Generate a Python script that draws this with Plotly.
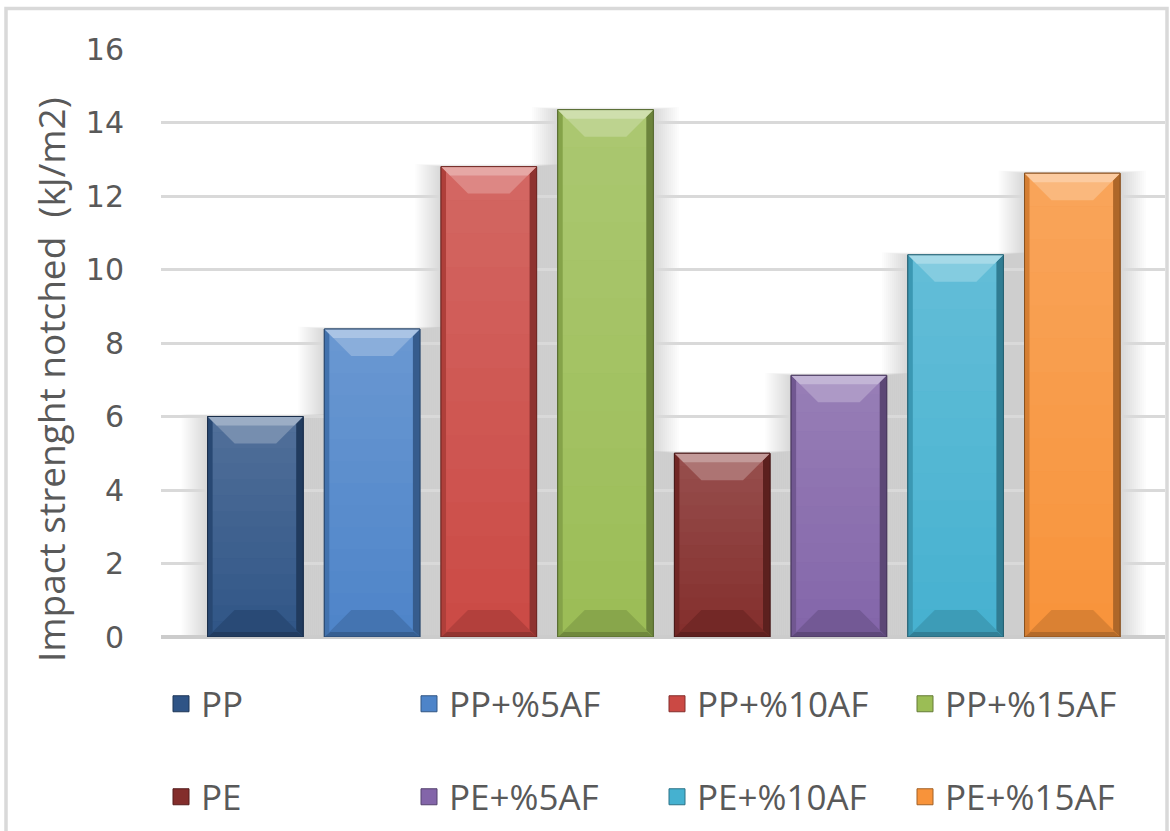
import plotly.graph_objects as go

# ---- data -------------------------------------------------------------
series = ["PP", "PP+%5AF", "PP+%10AF", "PP+%15AF",
          "PE", "PE+%5AF", "PE+%10AF", "PE+%15AF"]
impact_values = [6.0, 8.38, 12.8, 14.35, 5.0, 7.12, 10.4, 12.62]
bar_colors = ["#2f5486", "#4d84c9", "#cb4944", "#9bbd55",
              "#832d2b", "#8365a9", "#45b1d0", "#f8933a"]
y_ticks = [0, 2, 4, 6, 8, 10, 12, 14, 16]
y_title = "Impact strenght notched \u00a0(kJ/m2)"

# ---- layout geometry ---------------------------------------------------
W, H = 1170, 831
ML, MR, MT, MB = 161, 5, 49, 194
PW, PH = W - ML - MR, H - MT - MB
SLOT = 116.7                      # px per bar slot
BAR_W = 0.819                     # bar width as fraction of slot
X_LO = -0.809
X_HI = X_LO + PW / SLOT
Y_MAX = 16
KX = 1.0 / SLOT                   # x data units per pixel
KY = Y_MAX / PH                   # y data units per pixel

TEXT = "#595959"
GRID = "#d9d9d9"


def mix(hex_color, target, t):
    h = hex_color.lstrip("#")
    r, g, b = (int(h[i:i + 2], 16) for i in (0, 2, 4))
    tr, tg, tb = target
    r = round(r + (tr - r) * t)
    g = round(g + (tg - g) * t)
    b = round(b + (tb - b) * t)
    return f"rgb({r},{g},{b})"


def lighten(c, t):
    return mix(c, (255, 255, 255), t)


def darken(c, t):
    return mix(c, (0, 0, 0), t)


def poly(points):
    return "M " + " L ".join(f"{x:.5f},{y:.5f}" for x, y in points) + " Z"


def px_x(px):
    return (px - ML) / PW


def px_y(py):
    return (H - MB - py) / PH


fig = go.Figure()
shapes = []

for i, (name, v, c) in enumerate(zip(series, impact_values, bar_colors)):
    fig.add_trace(go.Bar(
        x=[i], y=[v], name=name, width=BAR_W, showlegend=False,
        marker=dict(color=c, line=dict(color=darken(c, 0.45), width=1)),
        hovertemplate=f"{name}: %{{y}}<extra></extra>",
    ))

    xl, xr = i - BAR_W / 2, i + BAR_W / 2

    # soft drop shadow around each bar
    for e in range(2, 28, 2):
        shapes.append(dict(
            type="rect", xref="x", yref="y", layer="below",
            x0=xl - e * KX, x1=xr + e * KX, y0=0, y1=v + e * 0.1 * KY,
            fillcolor="rgba(0,0,0,0.0135)", line=dict(width=0),
        ))

    # light vertical gradient on the face, brighter near the top
    n_bands = 14
    for k in range(n_bands):
        y0 = v * k / n_bands
        y1 = v * (k + 1) / n_bands
        alpha = 0.16 * (k + 1) / n_bands
        shapes.append(dict(
            type="rect", xref="x", yref="y", layer="above",
            x0=xl, x1=xr, y0=y0, y1=y1,
            fillcolor=f"rgba(255,255,255,{alpha:.3f})", line=dict(width=0),
        ))

    dx, dy = 27 * KX, 27 * KY
    sdx = 6 * KX

    # side edges
    shapes.append(dict(type="rect", xref="x", yref="y", layer="above",
                       x0=xl, x1=xl + 5 * KX, y0=0, y1=v,
                       fillcolor=darken(c, 0.14), line=dict(width=0)))
    shapes.append(dict(type="rect", xref="x", yref="y", layer="above",
                       x0=xr - 7 * KX, x1=xr, y0=0, y1=v,
                       fillcolor=darken(c, 0.30), line=dict(width=0)))

    # bottom bevel
    shapes.append(dict(type="path", xref="x", yref="y", layer="above",
                       path=poly([(xl, 0), (xr, 0), (xr - dx, dy), (xl + dx, dy)]),
                       fillcolor=darken(c, 0.12), line=dict(width=0)))
    shapes.append(dict(type="path", xref="x", yref="y", layer="above",
                       path=poly([(xl, 0), (xr, 0), (xr - sdx, 5 * KY), (xl + sdx, 5 * KY)]),
                       fillcolor=darken(c, 0.28), line=dict(width=0)))

    # top bevel with highlight
    shapes.append(dict(type="path", xref="x", yref="y", layer="above",
                       path=poly([(xl, v), (xr, v), (xr - dx, v - dy), (xl + dx, v - dy)]),
                       fillcolor=lighten(c, 0.34), line=dict(width=0)))
    shapes.append(dict(type="path", xref="x", yref="y", layer="above",
                       path=poly([(xl, v), (xr, v), (xr - 9 * KX, v - 9 * KY), (xl + 9 * KX, v - 9 * KY)]),
                       fillcolor=lighten(c, 0.52), line=dict(width=0)))

    # outline
    shapes.append(dict(type="rect", xref="x", yref="y", layer="above",
                       x0=xl, x1=xr, y0=0, y1=v,
                       fillcolor="rgba(0,0,0,0)", line=dict(color=darken(c, 0.45), width=1)))

# legend entries: square swatches in two rows of four
for i, (name, c) in enumerate(zip(series, bar_colors)):
    fig.add_trace(go.Scatter(
        x=[None], y=[None], mode="markers", name=name,
        marker=dict(symbol="square", size=16, color=c,
                    line=dict(color=darken(c, 0.35), width=1)),
        legend="legend" if i < 4 else "legend2",
        hoverinfo="skip",
    ))

# chart frame
shapes.append(dict(type="rect", xref="paper", yref="paper", layer="below",
                   x0=px_x(6), x1=px_x(1167), y0=px_y(8.5), y1=px_y(845),
                   fillcolor="rgba(0,0,0,0)", line=dict(color=GRID, width=3.5)))

legend_font = dict(family="Open Sans", size=35, color=TEXT)

fig.update_layout(
    width=W, height=H,
    margin=dict(l=ML, r=MR, t=MT, b=MB, pad=0),
    paper_bgcolor="white", plot_bgcolor="white",
    barmode="overlay",
    showlegend=True,
    shapes=shapes,
    xaxis=dict(range=[X_LO, X_HI], showticklabels=False, showgrid=False,
               zeroline=False, showline=False, ticks="", fixedrange=True),
    yaxis=dict(range=[0, Y_MAX], tickvals=y_ticks, ticks="",
               showgrid=True, gridcolor=GRID, gridwidth=3,
               zeroline=True, zerolinecolor="#cccccc", zerolinewidth=3.5,
               showline=False, ticklabelstandoff=36,
               tickfont=dict(family="DejaVu Sans", size=30, color=TEXT)),
    legend=dict(orientation="h", x=0, xanchor="left",
                y=px_y(704), yanchor="middle",
                entrywidth=203, entrywidthmode="pixels",
                itemsizing="trace",
                font=legend_font, bgcolor="rgba(0,0,0,0)",
                traceorder="normal"),
    legend2=dict(orientation="h", x=0, xanchor="left",
                 y=px_y(797), yanchor="middle",
                 entrywidth=203, entrywidthmode="pixels",
                 itemsizing="trace",
                 font=legend_font, bgcolor="rgba(0,0,0,0)",
                 traceorder="normal"),
    annotations=[dict(
        text=y_title, xref="paper", yref="paper",
        x=px_x(50), y=px_y(380), xanchor="center", yanchor="middle",
        textangle=-90, showarrow=False,
        font=dict(family="Open Sans", size=37, color=TEXT),
    )],
)

fig.write_html("out.html")
